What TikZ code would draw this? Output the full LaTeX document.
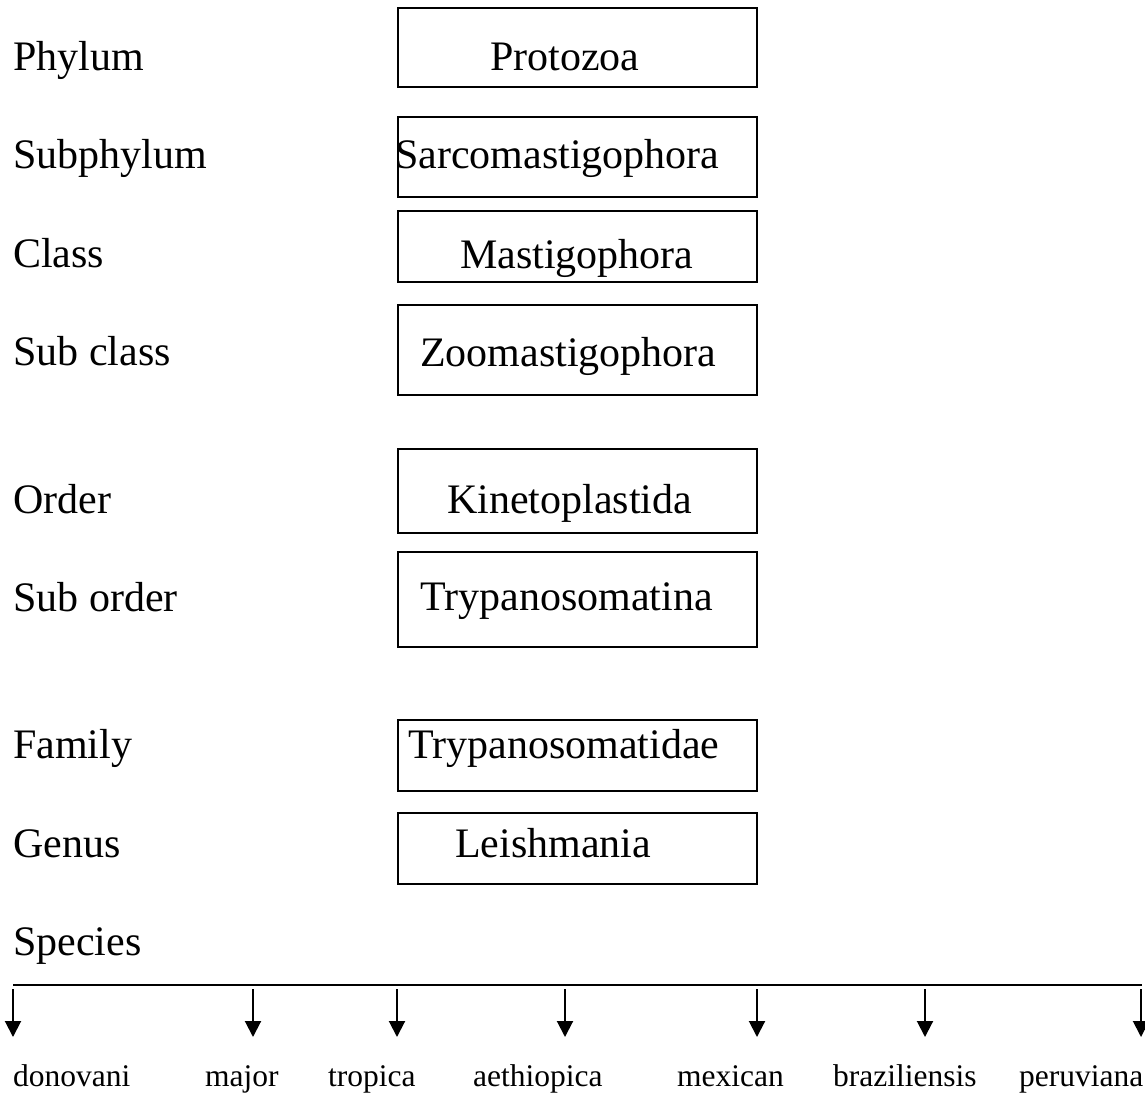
\documentclass[tikz,border=0pt]{standalone}
\usepackage{fontspec}
\setmainfont{Liberation Serif}
\usetikzlibrary{positioning, arrows.meta}
\tikzset{
    rank/.style={anchor=base west, inner sep=0pt, font=\fontsize{42}{50}\selectfont},
    taxon/.style={draw, line width=2pt, minimum width=359pt, inner sep=0pt},
    taxontext/.style={anchor=base west, inner sep=0pt, font=\fontsize{42}{50}\selectfont},
    species/.style={anchor=base west, inner sep=0pt, font=\fontsize{31.5}{38}\selectfont},
    branch/.style={-{Triangle[length=16pt, width=16pt]}, line width=2pt},
}

\begin{document}
\begin{tikzpicture}[x=1pt, y=-1pt]
    \useasboundingbox (0,0) rectangle (1145,1095);

    % ranks
    \node[rank] (phylum)    at (13,70)  {Phylum};
    \node[rank] (subphylum) at (13,168) {Subphylum};
    \node[rank] (class)     at (13,267) {Class};
    \node[rank] (subclass)  at (13,365) {Sub class};
    \node[rank] (order)     at (13,513) {Order};
    \node[rank] (suborder)  at (13,611) {Sub order};
    \node[rank] (family)    at (13,758) {Family};
    \node[rank] (genus)     at (13,857) {Genus};
    \node[rank] (species)   at (13,955) {Species};

    % boxes
    \node[taxon, minimum height=79pt] (protozoa)  at (577.5,47.5)  {};
    \node[taxon, minimum height=80pt] (sarco)     at (577.5,157)   {};
    \node[taxon, minimum height=71pt] (mastigo)   at (577.5,246.5) {};
    \node[taxon, minimum height=90pt] (zoomastigo) at (577.5,350)  {};
    \node[taxon, minimum height=84pt] (kineto)    at (577.5,491)   {};
    \node[taxon, minimum height=95pt] (trypina)   at (577.5,599.5) {};
    \node[taxon, minimum height=71pt] (trypidae)  at (577.5,755.5) {};
    \node[taxon, minimum height=71pt] (leish)     at (577.5,848.5) {};

    \node[taxontext] at (490,70)  {Protozoa};
    \node[taxontext] at (395,168) {Sarcomastigophora};
    \node[taxontext] at (460,268) {Mastigophora};
    \node[taxontext] at (420,366) {Zoomastigophora};
    \node[taxontext] at (447,513) {Kinetoplastida};
    \node[taxontext] at (420,610) {Trypanosomatina};
    \node[taxontext] at (408,758) {Trypanosomatidae};
    \node[taxontext] at (455,857) {Leishmania};

    % species bar
    \coordinate (barL) at (13,985);
    \coordinate (barR) at (1142,985);
    \draw[line width=1.6pt] (barL) -- (barR);
    \foreach \x [count=\i] in {13,253,397,565,757,925,1141} {
      \coordinate (top\i) at (\x,989);
      \coordinate (tip\i) at (\x,1037);
      \draw[branch] (top\i) -- (tip\i);
    }

    \node[species] (donovani)     at (13,1086)   {donovani};
    \node[species] (major)        at (205,1086)  {major};
    \node[species] (tropica)      at (328,1086)  {tropica};
    \node[species] (aethiopica)   at (473,1086)  {aethiopica};
    \node[species] (mexican)      at (677,1086)  {mexican};
    \node[species] (braziliensis) at (833,1086)  {braziliensis};
    \node[species] (peruviana)    at (1019,1086) {peruviana};
\end{tikzpicture}
\end{document}
